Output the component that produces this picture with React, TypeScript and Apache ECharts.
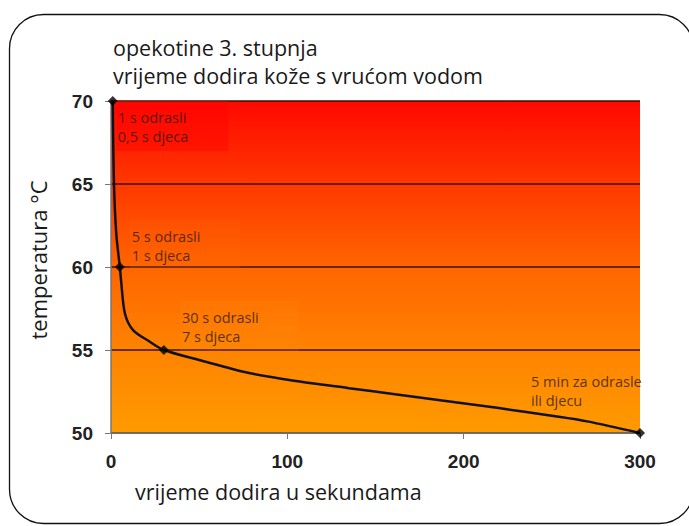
import React, { useEffect, useRef } from "react";
import * as echarts from "echarts";

const titleLines = ["opekotine 3. stupnja", "vrijeme dodira kože s vrućom vodom"];
const xAxisName = "vrijeme dodira u sekundama";
const yAxisName = "temperatura °C";

// curve: [seconds, °C]
const curveTime = [1, 1.7, 3, 5, 5.7, 7.9, 12.5, 22, 30, 50, 79, 107, 135, 160, 192, 220, 249, 270, 300];
const curveTemp = [70, 65, 62, 60, 59.2, 57.2, 56.2, 55.5, 55, 54.4, 53.6, 53.1, 52.7, 52.35, 51.9, 51.5, 51.05, 50.7, 50];

// key points with annotations
const keyTime = [1, 5, 30, 300];
const keyTemp = [70, 60, 55, 50];
const keyNotes = [
  "1 s odrasli\n0,5 s djeca",
  "5 s odrasli\n1 s djeca",
  "30 s odrasli\n7 s djeca",
  "5 min za odrasle\nili djecu",
];
const noteOffsets = [
  [8, 5],
  [15, -42],
  [21, -44],
  [-106, -63],
];
const noteBoxes = ["rgba(255,0,0,0.5)", "rgba(255,110,10,0.18)", "rgba(255,150,30,0.14)", "rgba(0,0,0,0)"];

export default function App() {
  const ref = useRef<HTMLDivElement>(null);
  useEffect(() => {
    document.body.style.margin = "0";
    const chart = echarts.init(ref.current!, null, { renderer: "svg" });
    const font = "'Open Sans', 'Noto Sans', sans-serif";
    const numFont = "'Liberation Sans', Arial, sans-serif";
    chart.setOption({
      animation: false,
      backgroundColor: "#ffffff",
      graphic: [
        {
          type: "rect",
          left: 7,
          top: 12,
          shape: { width: 684, height: 509, r: 34 },
          style: { fill: "none", stroke: "#111", lineWidth: 1.3 },
          z: 100,
        },
        {
          type: "text",
          left: 113,
          top: 33,
          style: {
            text: titleLines.join("\n"),
            fontFamily: font,
            fontSize: 21.5,
            lineHeight: 28,
            fill: "#1a1a1a",
          },
        },
        {
          type: "text",
          left: 135,
          top: 480,
          style: {
            text: xAxisName,
            fontFamily: font,
            fontSize: 21.5,
            fill: "#1a1a1a",
          },
        },
        {
          type: "text",
          x: 38,
          y: 260,
          rotation: Math.PI / 2,
          style: {
            text: yAxisName,
            fontFamily: font,
            fontSize: 22,
            fill: "#1a1a1a",
            align: "center",
            verticalAlign: "middle",
          },
        },
      ],
      grid: {
        left: 111,
        right: 49,
        top: 101,
        bottom: 93,
        show: true,
        borderWidth: 0,
        backgroundColor: new echarts.graphic.LinearGradient(0, 0, 0, 1, [
          { offset: 0, color: "#ff0800" },
          { offset: 0.25, color: "#ff3800" },
          { offset: 0.5, color: "#ff6500" },
          { offset: 0.75, color: "#ff8300" },
          { offset: 1, color: "#ff9a00" },
        ]),
      },
      xAxis: {
        type: "value",
        min: 0,
        max: 300,
        interval: 100,
        axisLine: { show: true, lineStyle: { color: "#777", width: 1.5 } },
        axisTick: { show: true, length: 6, lineStyle: { color: "#777" } },
        axisLabel: { fontFamily: numFont, fontSize: 19, color: "#222", margin: 19, fontWeight: "bold" },
        splitLine: { show: false },
      },
      yAxis: {
        type: "value",
        min: 50,
        max: 70,
        interval: 5,
        axisLine: { show: true, lineStyle: { color: "#777", width: 1.5 } },
        axisTick: { show: true, length: 6, lineStyle: { color: "#777" } },
        axisLabel: { fontFamily: numFont, fontSize: 19, color: "#222", margin: 18, fontWeight: "bold" },
        splitLine: { show: true, lineStyle: { color: "#3a1200", width: 1.5 } },
      },
      series: [
        {
          type: "line",
          data: curveTime.map((t, i) => [t, curveTemp[i]]),
          smooth: 0.3,
          symbol: "none",
          lineStyle: { color: "#111", width: 2.5 },
          z: 3,
        },
        {
          type: "scatter",
          data: keyTime.map((t, i) => ({
            value: [t, keyTemp[i]],
            label: {
              show: true,
              formatter: keyNotes[i],
              position: noteOffsets[i],
              align: "left",
              verticalAlign: "top",
              fontFamily: font,
              fontSize: 14.5,
              lineHeight: 19,
              color: "#2e1a10",
              backgroundColor: noteBoxes[i],
              padding: [7, 40, 5, 2],
            },
          })),
          symbol: "diamond",
          symbolSize: 10,
          itemStyle: { color: "#000" },
          z: 4,
        },
      ],
    });
    return () => chart.dispose();
  }, []);
  return <div ref={ref} style={{ width: 689, height: 526 }} />;
}
